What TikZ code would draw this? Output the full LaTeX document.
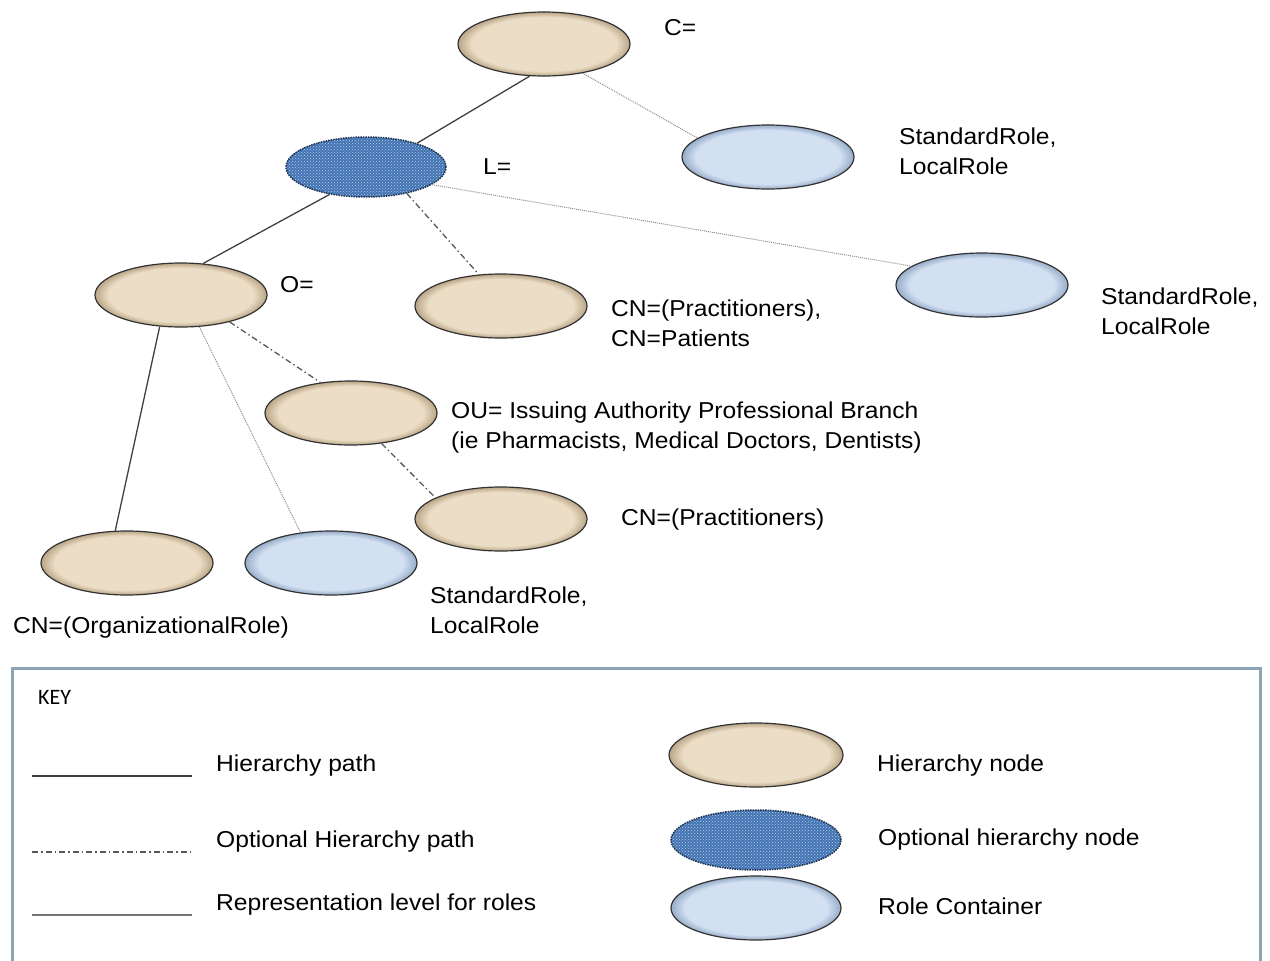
\documentclass[tikz,border=0pt]{standalone}
\usepackage{fontspec}
\setmainfont[FakeStretch=1.07]{Liberation Sans}
\newfontfamily\keyfont{Carlito}
\usetikzlibrary{shapes.geometric,patterns}
\definecolor{beigein}{RGB}{236,222,198}
\definecolor{beigeout}{RGB}{185,165,135}
\definecolor{rolein}{RGB}{210,224,242}
\definecolor{roleout}{RGB}{150,172,200}
\definecolor{optblue}{RGB}{66,116,180}
\definecolor{keyframe}{RGB}{140,165,182}
\pgfdeclareradialshading{beigeshade}{\pgfpoint{0bp}{0bp}}{color(0bp)=(beigein); color(21bp)=(beigein); color(25bp)=(beigeout); color(50bp)=(beigeout)}
\pgfdeclareradialshading{roleshade}{\pgfpoint{0bp}{0bp}}{color(0bp)=(rolein); color(21bp)=(rolein); color(25bp)=(roleout); color(50bp)=(roleout)}
\tikzset{
  hnode/.style={ellipse, draw=black!80, line width=1.2, minimum width=172, minimum height=64, shading=beigeshade},
  rnode/.style={ellipse, draw=black!80, line width=1.2, minimum width=172, minimum height=64, shading=roleshade},
  onode/.style={ellipse, draw=optblue!45!black, densely dotted, line width=1.5, minimum width=160, minimum height=60,
    preaction={fill=optblue}, pattern=crosshatch dots, pattern color=optblue!35!white},
  lbl/.style={font=\fontsize{23}{30}\selectfont, inner sep=0pt, align=left, anchor=west},
  hpath/.style={draw=black!75, line width=1.3},
  optpath/.style={draw=black!65, line width=1.3, dash pattern=on 6pt off 3pt on 1.5pt off 3pt},
  rolepath/.style={draw=black!45, line width=1, densely dotted},
  replevel/.style={draw=black!55, line width=1.3}
}
\begin{document}
\begin{tikzpicture}[x=1pt, y=-1pt]
  \useasboundingbox (0,0) rectangle (1270,961);
  % Nodes
  \node[hnode] (C) at (544,44) {};
  \node[onode] (L) at (366,167) {};
  \node[rnode] (r1) at (768,157) {};
  \node[hnode] (O) at (181,295) {};
  \node[hnode] (cn1) at (501,306) {};
  \node[rnode] (r2) at (982,285) {};
  \node[hnode] (ou) at (351,413) {};
  \node[hnode] (cn2) at (501,519) {};
  \node[hnode] (org) at (127,563) {};
  \node[rnode] (r3) at (331,563) {};
  % Labels
  \node[lbl] (cLbl) at (664,28) {C=};
  \node[lbl] (lLbl) at (483,167) {L=};
  \node[lbl] (oLbl) at (280,285) {O=};
  \node[lbl] (r1Lbl) at (899,151) {StandardRole,\\LocalRole};
  \node[lbl] (r2Lbl) at (1101,311) {StandardRole,\\LocalRole};
  \node[lbl] (cn1Lbl) at (611,323) {CN=(Practitioners),\\CN=Patients};
  \node[lbl] (ouLbl) at (451,428) {OU= Issuing Authority Professional Branch\\(ie Pharmacists, Medical Doctors, Dentists)};
  \node[lbl] (cn2Lbl) at (621,520) {CN=(Practitioners)};
  \node[lbl] (orgLbl) at (13,628) {CN=(OrganizationalRole)};
  \node[lbl] (r3Lbl) at (430,610) {StandardRole,\\LocalRole};
  % Paths
  \draw[hpath] (C.246) -- (L.25);
  \draw[rolepath] (C.323) -- (r1.165);
  \draw[rolepath] (L.345) -- (r2.165);
  \draw[hpath] (L.217) -- (O.55);
  \draw[optpath] (L.327) -- (cn1.125);
  \draw[hpath] (O.236) -- (org.110);
  \draw[rolepath] (O.300) -- (r3.135);
  \draw[optpath] (O.331) -- (ou.135);
  \draw[optpath] (ou.315) -- (cn2.162);
  % Key
  \draw[keyframe, line width=3] (12,975) -- (12,668) -- (1260,668) -- (1260,975);
  \node[font=\keyfont\fontsize{22}{24}\selectfont, anchor=west, inner sep=0pt] (key) at (38,697) {KEY};
  \foreach \y/\s/\t in {776/hpath/Hierarchy path, 852/optpath/Optional Hierarchy path, 915/replevel/Representation level for roles} {
    \coordinate (ka\y) at (32,\y);
    \coordinate (kb\y) at (192,\y);
    \draw[\s] (ka\y) -- (kb\y);
    \node[lbl] (kt\y) at (216,\y-10) {\t};
  }
  \node[hnode, minimum width=174] (khn) at (756,755) {};
  \node[onode, minimum width=170] (kon) at (756,840) {};
  \node[rnode, minimum width=170] (krc) at (756,908) {};
  \node[lbl] (khnLbl) at (877,766) {Hierarchy node};
  \node[lbl] (konLbl) at (878,840) {Optional hierarchy node};
  \node[lbl] (krcLbl) at (878,906) {Role Container};
\end{tikzpicture}
\end{document}
